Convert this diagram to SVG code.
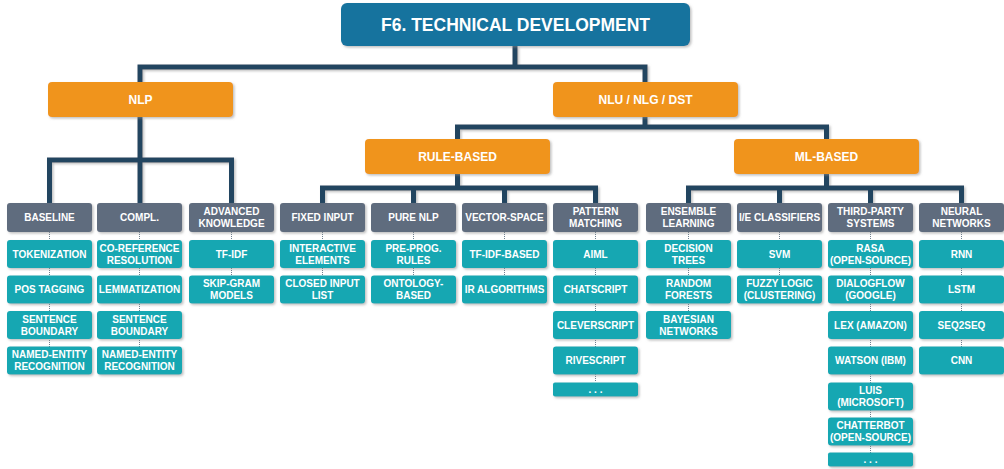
<svg xmlns="http://www.w3.org/2000/svg" width="1004" height="469" viewBox="0 0 1004 469">
<defs>
<filter id="sh" x="-10%" y="-10%" width="130%" height="150%">
<feDropShadow dx="1.5" dy="1.5" stdDeviation="0.8" flood-color="#8a8a8a" flood-opacity="0.55"/>
</filter>
</defs>
<style>
text{font-family:"Liberation Sans",Arial,sans-serif;font-weight:bold;fill:#fff;text-anchor:middle}
.title rect{fill:#13739e}
.title text{font-size:17.5px}
.l1 rect{fill:#f0941f}
.l1 text{font-size:12px}
.cat rect{fill:#5f6c7e}
.cat text,.leaf text{font-size:10px}
.leaf rect{fill:#15a7b2}
.box{filter:url(#sh)}
.conn{fill:none;stroke:#244560;stroke-width:5;stroke-linejoin:miter;filter:url(#sh)}
.dot{fill:none;stroke:#6d7f8f;stroke-width:1;stroke-dasharray:1 1}
</style>
<rect width="1004" height="469" fill="#fff"/>
<g id="connectors">
<path class="conn" d="M515 46V67M140 82V67H645V82"/>
<path class="conn" d="M140 117V160M49.5 203V160H231.5V203M140 160V203"/>
<path class="conn" d="M645 117V127M457.5 139V127H826.5V139"/>
<path class="conn" d="M457.5 174V188M322.5 203V188H595.5V203M413.5 188V203M504.5 188V203"/>
<path class="conn" d="M826.5 174V188M688.5 203V188H961.5V203M779.5 188V203M870.5 188V203"/>
<g class="dots">
<path class="dot" d="M49.5 232V347"/>
<path class="dot" d="M139.5 232V347"/>
<path class="dot" d="M231.5 232V276"/>
<path class="dot" d="M322.5 232V276"/>
<path class="dot" d="M413.5 232V276"/>
<path class="dot" d="M504.5 232V276"/>
<path class="dot" d="M595.5 232V382"/>
<path class="dot" d="M688.5 232V311"/>
<path class="dot" d="M779.5 232V276"/>
<path class="dot" d="M870.5 232V453"/>
<path class="dot" d="M961.5 232V347"/>
</g>
</g>
<g id="title" class="title"><rect class="box" x="341" y="3" width="349" height="43" rx="6"/><text x="515.5" y="31">F6. TECHNICAL DEVELOPMENT</text></g>
<g id="nlp" class="l1"><rect class="box" x="48" y="82" width="185" height="35" rx="4"/><text x="140.5" y="104">NLP</text></g>
<g id="nlu" class="l1"><rect class="box" x="553" y="82" width="185" height="35" rx="4"/><text x="645.5" y="104">NLU / NLG / DST</text></g>
<g id="rule" class="l1"><rect class="box" x="365" y="139" width="185" height="35" rx="4"/><text x="457.5" y="161">RULE-BASED</text></g>
<g id="ml" class="l1"><rect class="box" x="734" y="139" width="185" height="35" rx="4"/><text x="826.5" y="161">ML-BASED</text></g>

<g id="baseline" class="cat"><rect class="box" x="7" y="203" width="85" height="29" rx="3"/><text x="49.5" y="220.5">BASELINE</text></g>
<g id="compl" class="cat"><rect class="box" x="97" y="203" width="85" height="29" rx="3"/><text x="139.5" y="220.5">COMPL.</text></g>
<g id="advanced" class="cat"><rect class="box" x="189" y="203" width="85" height="29" rx="3"/><text x="231.5" y="214.5">ADVANCED</text><text x="231.5" y="226.5">KNOWLEDGE</text></g>
<g id="fixed" class="cat"><rect class="box" x="280" y="203" width="85" height="29" rx="3"/><text x="322.5" y="220.5">FIXED INPUT</text></g>
<g id="purenlp" class="cat"><rect class="box" x="371" y="203" width="85" height="29" rx="3"/><text x="413.5" y="220.5">PURE NLP</text></g>
<g id="vector" class="cat"><rect class="box" x="462" y="203" width="85" height="29" rx="3"/><text x="504.5" y="220.5">VECTOR-SPACE</text></g>
<g id="pattern" class="cat"><rect class="box" x="553" y="203" width="85" height="29" rx="3"/><text x="595.5" y="214.5">PATTERN</text><text x="595.5" y="226.5">MATCHING</text></g>
<g id="ensemble" class="cat"><rect class="box" x="646" y="203" width="85" height="29" rx="3"/><text x="688.5" y="214.5">ENSEMBLE</text><text x="688.5" y="226.5">LEARNING</text></g>
<g id="ie" class="cat"><rect class="box" x="737" y="203" width="85" height="29" rx="3"/><text x="779.5" y="220.5">I/E CLASSIFIERS</text></g>
<g id="thirdparty" class="cat"><rect class="box" x="828" y="203" width="85" height="29" rx="3"/><text x="870.5" y="214.5">THIRD-PARTY</text><text x="870.5" y="226.5">SYSTEMS</text></g>
<g id="neural" class="cat"><rect class="box" x="919" y="203" width="85" height="29" rx="3"/><text x="961.5" y="214.5">NEURAL</text><text x="961.5" y="226.5">NETWORKS</text></g>

<g id="b1" class="leaf"><rect class="box" x="7" y="240" width="85" height="28" rx="3"/><text x="49.5" y="257.5">TOKENIZATION</text></g>
<g id="b2" class="leaf"><rect class="box" x="7" y="275.5" width="85" height="28" rx="3"/><text x="49.5" y="293">POS TAGGING</text></g>
<g id="b3" class="leaf"><rect class="box" x="7" y="311" width="85" height="28" rx="3"/><text x="49.5" y="322.5">SENTENCE</text><text x="49.5" y="334.5">BOUNDARY</text></g>
<g id="b4" class="leaf"><rect class="box" x="7" y="346.5" width="85" height="28" rx="3"/><text x="49.5" y="358">NAMED-ENTITY</text><text x="49.5" y="370">RECOGNITION</text></g>

<g id="c1" class="leaf"><rect class="box" x="97" y="240" width="85" height="28" rx="3"/><text x="139.5" y="251.5">CO-REFERENCE</text><text x="139.5" y="263.5">RESOLUTION</text></g>
<g id="c2" class="leaf"><rect class="box" x="97" y="275.5" width="85" height="28" rx="3"/><text x="139.5" y="293">LEMMATIZATION</text></g>
<g id="c3" class="leaf"><rect class="box" x="97" y="311" width="85" height="28" rx="3"/><text x="139.5" y="322.5">SENTENCE</text><text x="139.5" y="334.5">BOUNDARY</text></g>
<g id="c4" class="leaf"><rect class="box" x="97" y="346.5" width="85" height="28" rx="3"/><text x="139.5" y="358">NAMED-ENTITY</text><text x="139.5" y="370">RECOGNITION</text></g>

<g id="a1" class="leaf"><rect class="box" x="189" y="240" width="85" height="28" rx="3"/><text x="231.5" y="257.5">TF-IDF</text></g>
<g id="a2" class="leaf"><rect class="box" x="189" y="275.5" width="85" height="28" rx="3"/><text x="231.5" y="287">SKIP-GRAM</text><text x="231.5" y="299">MODELS</text></g>

<g id="f1" class="leaf"><rect class="box" x="280" y="240" width="85" height="28" rx="3"/><text x="322.5" y="251.5">INTERACTIVE</text><text x="322.5" y="263.5">ELEMENTS</text></g>
<g id="f2" class="leaf"><rect class="box" x="280" y="275.5" width="85" height="28" rx="3"/><text x="322.5" y="287">CLOSED INPUT</text><text x="322.5" y="299">LIST</text></g>

<g id="p1" class="leaf"><rect class="box" x="371" y="240" width="85" height="28" rx="3"/><text x="413.5" y="251.5">PRE-PROG.</text><text x="413.5" y="263.5">RULES</text></g>
<g id="p2" class="leaf"><rect class="box" x="371" y="275.5" width="85" height="28" rx="3"/><text x="413.5" y="287">ONTOLOGY-</text><text x="413.5" y="299">BASED</text></g>

<g id="v1" class="leaf"><rect class="box" x="462" y="240" width="85" height="28" rx="3"/><text x="504.5" y="257.5">TF-IDF-BASED</text></g>
<g id="v2" class="leaf"><rect class="box" x="462" y="275.5" width="85" height="28" rx="3"/><text x="504.5" y="293">IR ALGORITHMS</text></g>

<g id="m1" class="leaf"><rect class="box" x="553" y="240" width="85" height="28" rx="3"/><text x="595.5" y="257.5">AIML</text></g>
<g id="m2" class="leaf"><rect class="box" x="553" y="275.5" width="85" height="28" rx="3"/><text x="595.5" y="293">CHATSCRIPT</text></g>
<g id="m3" class="leaf"><rect class="box" x="553" y="311" width="85" height="28" rx="3"/><text x="595.5" y="328.5">CLEVERSCRIPT</text></g>
<g id="m4" class="leaf"><rect class="box" x="553" y="346.5" width="85" height="28" rx="3"/><text x="595.5" y="364">RIVESCRIPT</text></g>
<g id="m5" class="leaf"><rect class="box" x="553" y="382.5" width="85" height="14" rx="2"/><text x="595.5" y="393">. . .</text></g>

<g id="e1" class="leaf"><rect class="box" x="646" y="240" width="85" height="28" rx="3"/><text x="688.5" y="251.5">DECISION</text><text x="688.5" y="263.5">TREES</text></g>
<g id="e2" class="leaf"><rect class="box" x="646" y="275.5" width="85" height="28" rx="3"/><text x="688.5" y="287">RANDOM</text><text x="688.5" y="299">FORESTS</text></g>
<g id="e3" class="leaf"><rect class="box" x="646" y="311" width="85" height="28" rx="3"/><text x="688.5" y="322.5">BAYESIAN</text><text x="688.5" y="334.5">NETWORKS</text></g>

<g id="i1" class="leaf"><rect class="box" x="737" y="240" width="85" height="28" rx="3"/><text x="779.5" y="257.5">SVM</text></g>
<g id="i2" class="leaf"><rect class="box" x="737" y="275.5" width="85" height="28" rx="3"/><text x="779.5" y="287">FUZZY LOGIC</text><text x="779.5" y="299">(CLUSTERING)</text></g>

<g id="t1" class="leaf"><rect class="box" x="828" y="240" width="85" height="28" rx="3"/><text x="870.5" y="251.5">RASA</text><text x="870.5" y="263.5">(OPEN-SOURCE)</text></g>
<g id="t2" class="leaf"><rect class="box" x="828" y="275.5" width="85" height="28" rx="3"/><text x="870.5" y="287">DIALOGFLOW</text><text x="870.5" y="299">(GOOGLE)</text></g>
<g id="t3" class="leaf"><rect class="box" x="828" y="311" width="85" height="28" rx="3"/><text x="870.5" y="328.5">LEX (AMAZON)</text></g>
<g id="t4" class="leaf"><rect class="box" x="828" y="346.5" width="85" height="28" rx="3"/><text x="870.5" y="364">WATSON (IBM)</text></g>
<g id="t5" class="leaf"><rect class="box" x="828" y="382.5" width="85" height="28" rx="3"/><text x="870.5" y="394">LUIS</text><text x="870.5" y="406">(MICROSOFT)</text></g>
<g id="t6" class="leaf"><rect class="box" x="828" y="417.5" width="85" height="28" rx="3"/><text x="870.5" y="429">CHATTERBOT</text><text x="870.5" y="441">(OPEN-SOURCE)</text></g>
<g id="t7" class="leaf"><rect class="box" x="828" y="452.5" width="85" height="14" rx="2"/><text x="870.5" y="463">. . .</text></g>

<g id="n1" class="leaf"><rect class="box" x="919" y="240" width="85" height="28" rx="3"/><text x="961.5" y="257.5">RNN</text></g>
<g id="n2" class="leaf"><rect class="box" x="919" y="275.5" width="85" height="28" rx="3"/><text x="961.5" y="293">LSTM</text></g>
<g id="n3" class="leaf"><rect class="box" x="919" y="311" width="85" height="28" rx="3"/><text x="961.5" y="328.5">SEQ2SEQ</text></g>
<g id="n4" class="leaf"><rect class="box" x="919" y="346.5" width="85" height="28" rx="3"/><text x="961.5" y="364">CNN</text></g>
</svg>
